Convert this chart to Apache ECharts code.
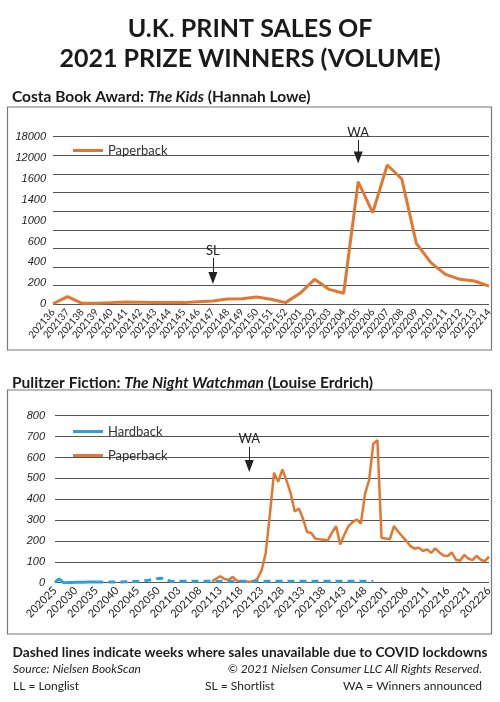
<!DOCTYPE html>
<html>
<head>
<meta charset="utf-8">
<script src="https://cdn.jsdelivr.net/npm/echarts@6/dist/echarts.min.js"></script>
<style>
html,body{margin:0;padding:0;background:#fff;}
#c{width:500px;height:702px;}
</style>
</head>
<body>
<div id="c"></div>
<script>
// ---- Costa Book Award: The Kids (paperback, weekly) ----
const costaWeeks = ['202136','202137','202138','202139','202140','202141','202142','202143','202144','202145','202146','202147','202148','202149','202150','202151','202152','202201','202202','202203','202204','202205','202206','202207','202208','202209','202210','202211','202212','202213','202214'];
// values in the chart's plotted units (each gridline step = 100)
const costaPaperback = [3,41,5,5,9,12,11,9,9,9,14,18,29,30,39,27,9,59,134,80,59,658,492,748,673,327,224,161,134,125,98];
// tick labels as printed on the original axis
const costaTickLabels = ['0','200','400','600','1000','1400','1600','12000','18000'];
const costaMarks = [
  {name:'SL', week:'202147', from:249, to:141},
  {name:'WA', week:'202205', from:882, to:788}
];

// ---- Pulitzer Fiction: The Night Watchman (weekly) ----
const pulitzerWeeks = ['202025','202026','202027','202028','202029','202030','202031','202032','202033','202034','202035','202036','202037','202038','202039','202040','202041','202042','202043','202044','202045','202046','202047','202048','202049','202050','202051','202052',
'202101','202102','202103','202104','202105','202106','202107','202108','202109','202110','202111','202112','202113','202114','202115','202116','202117','202118','202119','202120','202121','202122','202123','202124','202125','202126','202127','202128','202129','202130','202131','202132','202133','202134','202135','202136','202137','202138','202139','202140','202141','202142','202143','202144','202145','202146','202147','202148','202149','202150','202151','202152',
'202201','202202','202203','202204','202205','202206','202207','202208','202209','202210','202211','202212','202213','202214','202215','202216','202217','202218','202219','202220','202221','202222','202223','202224','202225','202226'];
const pulitzerHardback = [2,18,0,1,1,2,2,2,3,3,
  3,3,3,3,3,3,3,4,5,6,
  6,8,10,13,17,20,21,14,6,7,
  7,7,7,7,7,7,7,7,7,7,
  7,7,7,7,7,7,7,7,7,7,
  7,7,7,7,7,7,7,7,7,7,
  7,7,7,7,7,7,7,7,7,7,
  7,7,7,7,7,7,7,7,
  null,null,null,null,null,null,null,null,null,null,null,null,null,null,null,null,null,null,null,null,null,null,null,null,null,null,null,null];
const hardbackUnavailableFrom = '202035';
const pulitzerPaperback = [null,null,null,null,null,null,null,null,null,null,
  null,null,null,null,null,null,null,null,null,null,
  null,null,null,null,null,null,null,null,null,null,
  null,null,null,null,null,null,null,null,
  6,20,31,18,14,28,10,5,4,5,
  5,20,60,145,330,527,484,542,490,430,
  341,356,306,243,238,211,208,206,203,240,
  271,183,230,271,290,303,283,424,492,665,
  683,214,212,208,271,245,222,200,175,163,
  168,152,160,143,165,145,130,128,145,110,
  105,133,115,108,128,110,103,125];
const pulitzerMarks = [{name:'WA', week:'202120', from:651, to:559}];

const ORANGE = '#E2782F';
const BLUE = '#2CA3D8';
const FONT = 'Lato';

const cutIdx = pulitzerWeeks.indexOf(hardbackUnavailableFrom);
const hardbackMeasured = pulitzerHardback.map((v,i)=> i<=cutIdx ? v : null);
const hardbackUnavailable = pulitzerHardback.map((v,i)=> i>=cutIdx ? v : null);

function markLineFrom(marks){
  return {
    silent:true, animation:false,
    symbol:['none','triangle'], symbolSize:[9,12],
    lineStyle:{color:'#222', width:1, type:'solid'},
    label:{show:true, position:'start', formatter:'{b}', color:'#222', fontSize:13, fontFamily:FONT, distance:1},
    data: marks.map(m=>[{coord:[m.week, m.from], name:m.name},{coord:[m.week, m.to]}])
  };
}

const axisLabelY = {color:'#222', fontSize:11, fontStyle:'italic', fontFamily:'Liberation Sans'};
const subStyle = {fontFamily:FONT, fontSize:15.5, fontWeight:'bold', color:'#1a1a1a',
  rich:{i:{fontFamily:FONT, fontSize:15.5, fontWeight:'bold', fontStyle:'italic', color:'#1a1a1a'}}};

const chart = echarts.init(document.getElementById('c'), null, {renderer:'canvas'});
chart.setOption({
  animation:false,
  backgroundColor:'#fff',
  title:[
    {text:'U.K. PRINT SALES OF\n2021 PRIZE WINNERS (VOLUME)', left:'center', top:9,
     textStyle:{fontFamily:FONT, fontSize:25, fontWeight:'bold', color:'#1a1a1a', lineHeight:30}},
    {text:'Costa Book Award: {i|The Kids} (Hannah Lowe)', left:7, top:84, textStyle:subStyle},
    {text:'Pulitzer Fiction: {i|The Night Watchman} (Louise Erdrich)', left:7, top:370, textStyle:subStyle},
    {text:'Dashed lines indicate weeks where sales unavailable due to COVID lockdowns', left:'center', top:641,
     textStyle:{fontFamily:FONT, fontSize:13.7, fontWeight:'bold', color:'#1a1a1a'}},
    {text:'Source: Nielsen BookScan', left:8, top:658,
     textStyle:{fontFamily:FONT, fontSize:12, fontStyle:'italic', fontWeight:'normal', color:'#222'}},
    {text:'© 2021 Nielsen Consumer LLC All Rights Reserved.', right:13, top:658,
     textStyle:{fontFamily:FONT, fontSize:12, fontStyle:'italic', fontWeight:'normal', color:'#222'}},
    {text:'LL = Longlist', left:8, top:675,
     textStyle:{fontFamily:FONT, fontSize:12, fontWeight:'normal', color:'#222'}},
    {text:'SL = Shortlist', left:200, top:675,
     textStyle:{fontFamily:FONT, fontSize:12, fontWeight:'normal', color:'#222'}},
    {text:'WA = Winners announced', right:13, top:675,
     textStyle:{fontFamily:FONT, fontSize:12, fontWeight:'normal', color:'#222'}}
  ],
  graphic:[
    {type:'rect', shape:{x:7.5, y:107, width:484, height:243}, style:{fill:'none', stroke:'#777', lineWidth:1.2}, silent:true, z:-1},
    {type:'rect', shape:{x:7.5, y:390, width:484, height:244}, style:{fill:'none', stroke:'#777', lineWidth:1.2}, silent:true, z:-1}
  ],
  legend:[
    {data:['Paperback'], left:68, top:139, orient:'vertical', icon:'rect', itemWidth:30, itemHeight:3,
     textStyle:{fontFamily:FONT, fontSize:13, color:'#333'}, selectedMode:false},
    {data:['Hardback','Paperback'], left:68, top:420, orient:'vertical', icon:'rect', itemWidth:30, itemHeight:3, itemGap:11,
     textStyle:{fontFamily:FONT, fontSize:13, color:'#333'}, selectedMode:false}
  ],
  grid:[
    {left:53, right:11, top:136.7, height:167.6},
    {left:55, right:11, top:415.7, height:167}
  ],
  xAxis:[
    {type:'category', gridIndex:0, data:costaWeeks, boundaryGap:false,
     axisLine:{show:false}, axisTick:{show:false},
     axisLabel:{interval:0, rotate:50, fontSize:10, color:'#222', fontFamily:FONT, margin:6}},
    {type:'category', gridIndex:1, data:pulitzerWeeks, boundaryGap:false,
     axisLine:{show:false}, axisTick:{show:false},
     axisLabel:{interval:4, rotate:45, fontSize:11, color:'#222', fontFamily:FONT, margin:6}}
  ],
  yAxis:[
    {type:'value', gridIndex:0, min:0, max:900, interval:100,
     axisLabel:{show:false}, axisLine:{show:false}, axisTick:{show:false},
     splitLine:{show:true, lineStyle:{color:'#555', width:1}}},
    {type:'value', gridIndex:0, position:'left', offset:0, min:0, max:costaTickLabels.length-1, interval:1,
     axisLine:{show:false}, axisTick:{show:false}, splitLine:{show:false},
     axisLabel:Object.assign({margin:7, formatter:v=>costaTickLabels[v]}, axisLabelY)},
    {type:'value', gridIndex:1, min:0, max:800, interval:100,
     axisLine:{show:false}, axisTick:{show:false},
     axisLabel:Object.assign({margin:10}, axisLabelY),
     splitLine:{show:true, lineStyle:{color:'#555', width:1}}}
  ],
  series:[
    {name:'Paperback', type:'line', xAxisIndex:0, yAxisIndex:0, data:costaPaperback,
     symbol:'none', color:ORANGE, lineStyle:{width:3, color:ORANGE}, z:3,
     markLine:markLineFrom(costaMarks)},
    {name:'Hardback', type:'line', xAxisIndex:1, yAxisIndex:2, data:hardbackMeasured,
     symbol:'none', color:BLUE, lineStyle:{width:3, color:BLUE}, z:3},
    {name:'Hardback (sales unavailable)', type:'line', xAxisIndex:1, yAxisIndex:2, data:hardbackUnavailable,
     symbol:'none', color:BLUE, lineStyle:{width:3, color:BLUE, type:[7,5]}, z:4},
    {name:'Paperback', type:'line', xAxisIndex:1, yAxisIndex:2, data:pulitzerPaperback,
     symbol:'none', color:ORANGE, lineStyle:{width:2.5, color:ORANGE}, z:3,
     markLine:markLineFrom(pulitzerMarks)}
  ]
});
</script>
</body>
</html>
